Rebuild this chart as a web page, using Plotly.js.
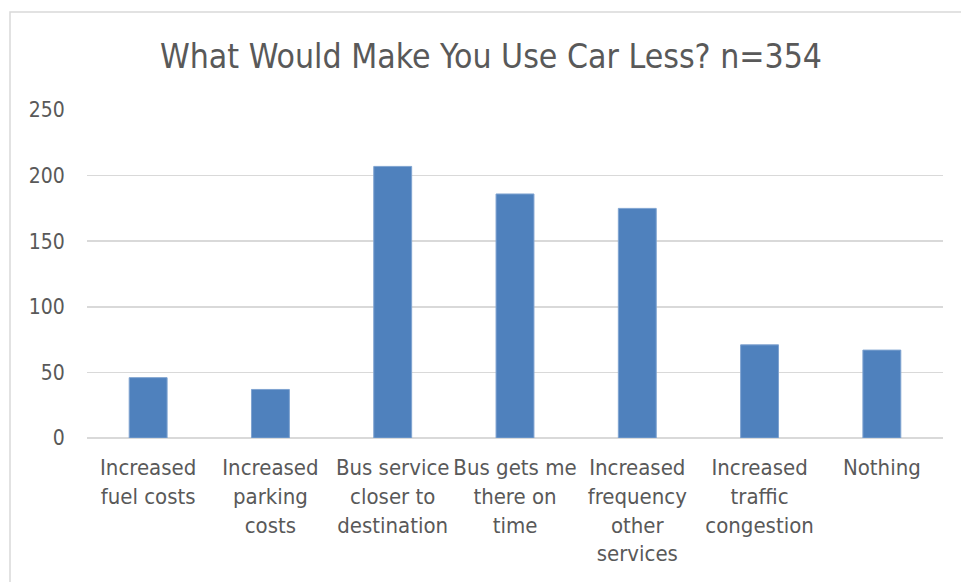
<!DOCTYPE html>
<html>
<head>
<meta charset="utf-8">
<script src="https://cdn.plot.ly/plotly-3.0.1.min.js"></script>
<style>
html,body{margin:0;padding:0;background:#fff;}
#chart{width:961px;height:582px;}
</style>
</head>
<body>
<div id="chart"></div>
<script>
const categories = [
  "Increased<br>fuel costs",
  "Increased<br>parking<br>costs",
  "Bus service<br>closer to<br>destination",
  "Bus gets me<br>there on<br>time",
  "Increased<br>frequency<br>other<br>services",
  "Increased<br>traffic<br>congestion",
  "Nothing"
];
const counts = [46, 37, 207, 186, 175, 71, 67];
const yTicks = [0, 50, 100, 150, 200, 250];
const chartTitle = "What Would Make You Use Car Less? n=354";

const FONT = "'Liberation Sans Narrow', 'DejaVu Sans Condensed', 'Open Sans', sans-serif";
const L = 87, R = 943, T = 110, B = 438;
const W = 961, H = 582;

const trace = {
  type: 'bar',
  x: categories,
  y: counts,
  marker: {color: '#4F81BD', line: {color: '#7FA3D0', width: 1}},
  hoverinfo: 'x+y'
};

const layout = {
  width: W, height: H,
  paper_bgcolor: '#fff', plot_bgcolor: '#fff',
  margin: {l: L, r: W - R, t: T, b: H - B, pad: 0},
  bargap: 0.69,
  showlegend: false,
  font: {family: FONT, color: '#595959', size: 21},
  title: {
    text: chartTitle,
    font: {family: FONT, size: 33.5, color: '#595959'},
    x: 491 / W, xref: 'container', xanchor: 'center',
    y: 1 - 56 / H, yref: 'container', yanchor: 'middle'
  },
  xaxis: {
    type: 'category',
    showgrid: false,
    showline: false,
    zeroline: false,
    ticks: 'outside', ticklen: 10, tickcolor: 'rgba(0,0,0,0)',
    tickfont: {family: FONT, size: 22, color: '#595959'},
    tickangle: 0,
    automargin: false
  },
  yaxis: {
    range: [0, 250],
    tickvals: yTicks,
    ticktext: yTicks.map(String),
    showgrid: true,
    gridcolor: '#d9d9d9',
    gridwidth: 1.5,
    zeroline: true,
    zerolinecolor: '#d9d9d9',
    zerolinewidth: 1.5,
    showline: false,
    ticks: 'outside', ticklen: 17, tickcolor: 'rgba(0,0,0,0)',
    tickfont: {family: FONT, size: 21, color: '#595959'},
    automargin: false
  },
  shapes: [{
    type: 'rect', xref: 'paper', yref: 'paper',
    x0: (10 - L) / (R - L), x1: (975 - L) / (R - L),
    y0: (B - 600) / (B - T), y1: (B - 12) / (B - T),
    line: {color: '#d9d9d9', width: 1.5},
    fillcolor: 'rgba(0,0,0,0)', layer: 'below'
  }]
};

Plotly.newPlot('chart', [trace], layout, {displayModeBar: false, staticPlot: true});
</script>
</body>
</html>
